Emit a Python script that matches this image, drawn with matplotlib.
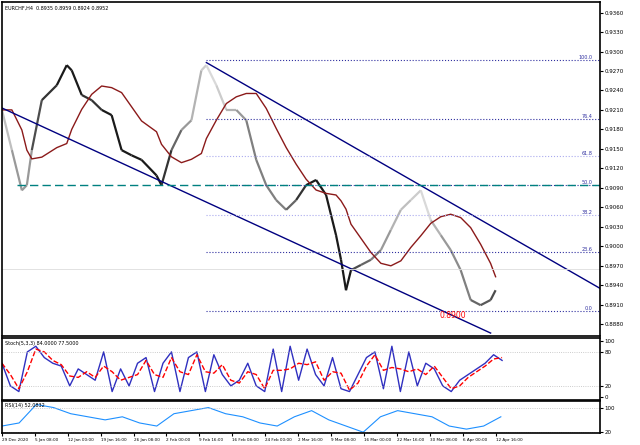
import numpy as np, pandas as pd
import matplotlib
matplotlib.use("Agg")
import matplotlib.pyplot as plt
from matplotlib.collections import LineCollection

# bar positions (1 unit = 5px) and prices
bars = [0,2,4,5,6,8,11,13,14,16,18,20,22,24,26,28,31,32,34,36,38,40,41,43,45,47,49,51,53,55,57,59,61,63,65,67,68,69,70,72,74,76,78,80,82,84,86,88,90,92,94,96,98,99]
price = [0.9210,0.9148,0.9086,0.9094,0.9148,0.9225,0.9248,0.9279,0.9271,0.9233,0.9225,0.9210,0.9202,0.9148,0.9140,0.9133,0.9109,0.9094,0.9148,0.9179,0.9194,0.9271,0.9279,0.9248,0.9210,0.9210,0.9194,0.9133,0.9094,0.9071,0.9056,0.9071,0.9094,0.9102,0.9079,0.9017,0.8979,0.8932,0.8963,0.8971,0.8979,0.8994,0.9025,0.9056,0.9071,0.9086,0.9040,0.9017,0.8994,0.8963,0.8917,0.8909,0.8917,0.8932]
shade = [0.75,0.6,0.6,0.6,0.3,0.2,0.1,0.1,0.1,0.2,0.2,0.1,0.1,0.1,0.1,0.1,0.1,0.2,0.4,0.6,0.7,0.8,0.85,0.8,0.7,0.6,0.5,0.5,0.5,0.5,0.4,0.2,0.1,0.1,0.1,0.1,0.1,0.1,0.3,0.4,0.5,0.6,0.7,0.75,0.8,0.85,0.7,0.6,0.55,0.5,0.4,0.35,0.3,0.3]

stoch_x = list(np.arange(0,102,1.7))
stoch = [60,20,10,80,90,70,60,55,20,50,40,30,80,10,50,20,60,70,10,60,80,10,70,80,10,75,40,20,30,60,20,10,85,10,90,30,85,40,20,70,15,10,40,70,80,15,90,10,80,20,60,50,20,10,30,40,50,60,75,65]
rsi_x = list(np.arange(0,102,3.45))
rsi = [40,45,75,70,60,55,50,55,45,40,60,65,70,60,55,45,40,55,65,50,40,30,55,65,60,55,40,35,40,55]

fib_levels = [0.0,23.6,38.2,50.0,61.8,76.4,100.0]
fib_low, fib_high = 0.8900, 0.9287
channel_upper = ([41,124],[0.9283,0.8917])
channel_lower = ([0,98],[0.9213,0.8866])
dates = ["29 Dec 2020","5 Jan 08:00","12 Jan 00:00","19 Jan 16:00","26 Jan 08:00","2 Feb 00:00","9 Feb 16:00","16 Feb 08:00","24 Feb 00:00","2 Mar 16:00","9 Mar 08:00","16 Mar 00:00","22 Mar 16:00","30 Mar 08:00","6 Apr 00:00","12 Apr 16:00"]

fig = plt.figure(figsize=(6.4,4.45), dpi=100)
L, W = 0.003, 0.935
ax = fig.add_axes([L,0.245,W,0.75])
ax2 = fig.add_axes([L,0.101,W,0.14])
ax3 = fig.add_axes([L,0.026,W,0.072])
for a in (ax,ax2,ax3):
    a.set_xlim(0,120)
    a.yaxis.tick_right()
    a.tick_params(labelsize=4, length=2, pad=1)
    for s in a.spines.values(): s.set_linewidth(1.2)
ax.set_xticks([]); ax2.set_xticks([])

pts = np.column_stack([bars,price])
segs = np.stack([pts[:-1],pts[1:]],axis=1)
cols = [(s,s,s) for s in shade[:-1]]
ax.add_collection(LineCollection(segs, colors=cols, linewidths=1.6))
ma = pd.Series(price).rolling(6,min_periods=1).mean().shift(1).bfill()
ax.plot(bars, ma, color='#8b1a1a', lw=1)
ax.plot(*channel_upper, color='#000080', lw=1)
ax.plot(*channel_lower, color='#000080', lw=1)
for lv in fib_levels:
    y = fib_low + (fib_high-fib_low)*lv/100
    c = '#aaaaee' if lv in (38.2,61.8) else '#3030a0'
    ax.plot([41,120],[y,y], ls=':', color=c, lw=0.8)
    ax.text(118.5,y,f"{lv:.1f}",fontsize=3.5,color='#3030a0',ha='right',va='bottom')
y50 = fib_low+(fib_high-fib_low)*0.5
ax.plot([3,120],[y50,y50], ls=(0,(6,3)), color='#008080', lw=1)
ax.axhline(0.8965, color='#dddddd', lw=0.6)
ax.text(93,0.8900,"0.8900",color='red',fontsize=5.5,ha='right',va='top')
ax.set_ylim(0.88615,0.9376)
yt = np.arange(0.8880,0.937,0.0030)
ax.set_yticks(yt); ax.set_yticklabels([f"{v:.4f}" for v in yt])
ax.text(0.005,0.99,"EURCHF,H4  0.8935 0.8959 0.8924 0.8952",transform=ax.transAxes,fontsize=3.5,va='top')

sig = pd.Series(stoch).rolling(2,min_periods=1).mean()
ax2.plot(stoch_x, stoch, color='#3030c0', lw=1)
ax2.plot(stoch_x, sig, color='red', lw=1, ls='--')
for v in (20,80): ax2.axhline(v, color='#bbbbbb', lw=0.6, ls=':')
ax2.set_ylim(-5,105); ax2.set_yticks([0,20,80,100])
ax2.text(0.005,0.95,"Stoch(5,3,3) 84.0000 77.5000",transform=ax2.transAxes,fontsize=3.5,va='top')

ax3.plot(rsi_x, rsi, color='#1e90ff', lw=0.8)
ax3.axhline(30, color='#bbbbbb', lw=0.6, ls=':'); ax3.axhline(70, color='#bbbbbb', lw=0.6, ls=':')
ax3.set_ylim(28,80); ax3.set_yticks([30,70]); ax3.set_yticklabels(['20','100'])
ax3.text(0.005,0.95,"RSI(14) 52.0832",transform=ax3.transAxes,fontsize=3.5,va='top')
ax3.set_xticks(np.arange(0,len(dates))*6.6)
ax3.set_xticklabels(dates, fontsize=3, ha='left')
fig.savefig("out.png", dpi=100)
